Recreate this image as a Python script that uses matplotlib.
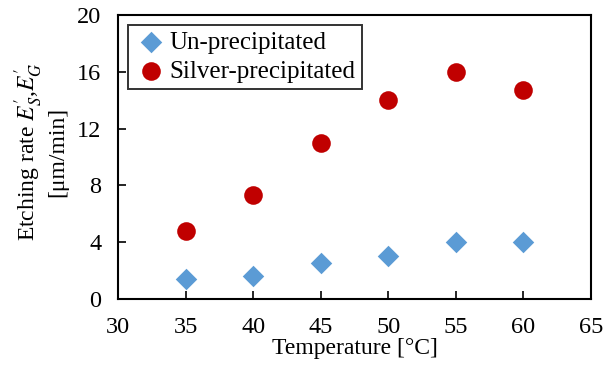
import matplotlib
matplotlib.use('Agg')
import matplotlib.pyplot as plt

# 数据
temperature = [35, 40, 45, 50, 55, 60]
un_precipitated = [1.4, 1.6, 2.5, 3.0, 4.0, 4.0]
silver_precipitated = [4.8, 7.3, 11.0, 14.0, 16.0, 14.7]

x_ticks = [30, 35, 40, 45, 50, 55, 60, 65]
y_ticks = [0, 4, 8, 12, 16, 20]

plt.rcParams['font.family'] = ['Liberation Serif', 'DejaVu Serif']
plt.rcParams['mathtext.fontset'] = 'stix'
plt.rcParams['font.size'] = 17

fig, ax = plt.subplots(figsize=(6.13, 3.69), dpi=100)
fig.subplots_adjust(left=0.1925, right=0.964, bottom=0.19, top=0.959)

ax.scatter(temperature, un_precipitated, marker='D', s=120, color='#5B9BD5',
           label='Un-precipitated', zorder=3, linewidths=0)
ax.scatter(temperature, silver_precipitated, marker='o', s=180, color='#C00000',
           label='Silver-precipitated', zorder=3, linewidths=0)

ax.set_xlim(30, 65)
ax.set_ylim(0, 20)
ax.set_xticks(x_ticks)
ax.set_yticks(y_ticks)
ax.tick_params(direction='in', length=6, width=1.2, labelsize=17.5)
ax.tick_params(axis='x', pad=13)
ax.tick_params(axis='y', pad=12)
for sp in ax.spines.values():
    sp.set_linewidth(1.5)

ax.set_xlabel('Temperature [°C]', labelpad=0)
# y轴标签，两行居中
fig.text(0.066, 0.588, "Etching rate $E_{S}^{\\prime}$,$E_{G}^{\\prime}$\n[μm/min]",
         rotation=90, ha='center', va='center', multialignment='center',
         linespacing=1.15, fontsize=17)

leg = ax.legend(loc='upper left', bbox_to_anchor=(0.0, 1.0), frameon=True,
                fancybox=False, edgecolor='black', fontsize=18,
                handletextpad=0.05, handlelength=1.35, borderpad=0.25,
                labelspacing=0.25, borderaxespad=0.4)
leg.get_frame().set_linewidth(1.4)

plt.savefig('out.png', dpi=100)
